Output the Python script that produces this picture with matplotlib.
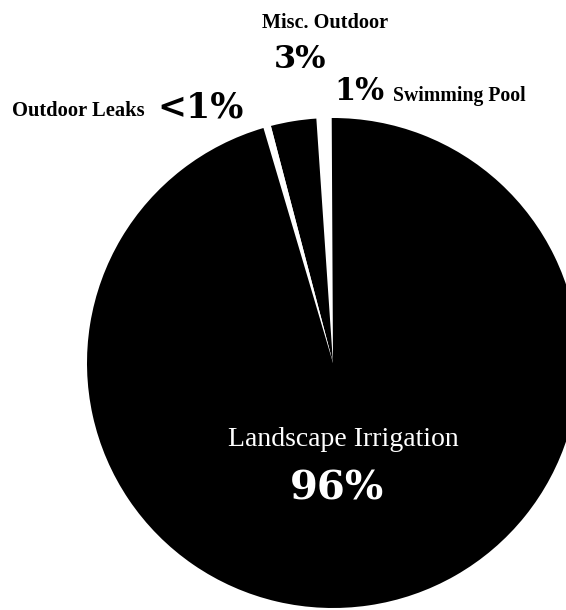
import matplotlib
matplotlib.use("Agg")
import matplotlib.pyplot as plt

# Outdoor water use breakdown (percent)
categories = ["Swimming Pool", "Misc. Outdoor", "Outdoor Leaks", "Landscape Irrigation"]
shares = [1.0, 3.0, 0.5, 96.0]
share_labels = ["1%", "3%", "<1%", "96%"]
slice_colors = ["white", "black", "white", "black"]

W, H = 566, 610
fig = plt.figure(figsize=(W / 100, H / 100), dpi=100)
fig.patch.set_facecolor("white")

# Pie centred low and to the right, running off the right edge
cx, cy = 333, 363          # centre in pixels from top-left
rx, ry = 246, 245          # horizontal / vertical radius in pixels
ax = fig.add_axes([(cx - rx) / W, (H - cy - ry) / H, 2 * rx / W, 2 * ry / H])
ax.pie(shares, colors=slice_colors, startangle=90.3, counterclock=True,
       radius=1.0, wedgeprops=dict(linewidth=0))
ax.set_aspect("auto")
ax.set_xlim(-1, 1)
ax.set_ylim(-1, 1)
ax.axis("off")

serif = ["Liberation Serif", "DejaVu Serif"]
num_serif = ["DejaVu Serif", "Liberation Serif"]

def ftext(x, y, s, size, color="black", weight="bold", ha="center", family=serif):
    fig.text(x / W, 1 - y / H, s, fontsize=size, color=color, weight=weight,
             ha=ha, va="center", family=family)

ftext(325, 23, categories[1], 14.6)
ftext(300, 60, share_labels[1], 23, family=num_serif)
ftext(334, 91, share_labels[0], 22, ha="left", family=num_serif)
ftext(393, 96, categories[0], 14.2, ha="left")
ftext(12, 111, categories[2], 14.8, ha="left")
ftext(201, 107, share_labels[2], 25, family=num_serif)
ftext(343, 440, categories[3], 20, color="white", weight="normal")
ftext(337, 488, share_labels[3], 29, color="white", family=num_serif)

fig.savefig("out.png", dpi=100, facecolor="white")
